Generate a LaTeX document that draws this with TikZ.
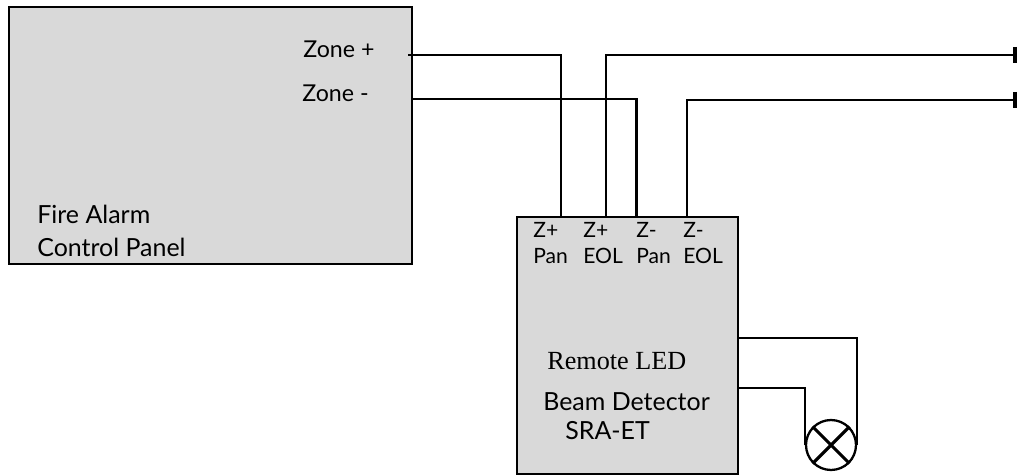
\documentclass[tikz,border=0pt]{standalone}
\usepackage{fontspec}
\setmainfont{Lato}
\newfontfamily\ledfont{Liberation Serif}
\usetikzlibrary{arrows.meta}
\tikzset{
    unitbox/.style={draw, line width=1.5pt, fill=black!15, inner sep=0pt},
    wire/.style={line width=1.4pt},
    label/.style={font=\fontsize{14.2}{19}\selectfont, align=left, anchor=west, inner sep=0pt},
    zonelabel/.style={font=\fontsize{13.2}{15}\selectfont, anchor=west, inner sep=0pt},
    pinlabel/.style={font=\fontsize{12}{14.8}\selectfont, align=left, anchor=north west, inner sep=0pt}
}
\begin{document}
\begin{tikzpicture}[x=0.02cm, y=-0.02cm]
    \useasboundingbox (0,0) rectangle (1017,476);

    % Boxes
    \node[unitbox, minimum width=8.06cm, minimum height=5.14cm] (panel) at (210.5,135.5) {};
    \node[unitbox, minimum width=4.42cm, minimum height=5.14cm] (detector) at (627.5,345.5) {};

    % Panel text
    \node[zonelabel] (zoneplus) at (303,49) {Zone +};
    \node[zonelabel] (zoneminus) at (302,93) {Zone -};
    \node[label] (panelname) at (37,231) {Fire Alarm\\Control Panel};

    % Detector text
    \node[pinlabel] (pinzpp) at (533,222) {Z+\\Pan};
    \node[pinlabel] (pinzpe) at (583,222) {Z+\\EOL};
    \node[pinlabel] (pinzmp) at (636,222) {Z-\\Pan};
    \node[pinlabel] (pinzme) at (683,222) {Z-\\EOL};
    \node[label, font=\ledfont\fontsize{14.9}{17}\selectfont] (ledname) at (547,361) {Remote LED};
    \node[label] (detname) at (543,402) {Beam Detector};
    \node[label] (srname) at (565,431) {SRA-ET};

    % Wire ends
    \coordinate (zpout) at (408,55);
    \coordinate (zmout) at (412,99);
    \coordinate (zpin) at (561,217);
    \coordinate (zpeol) at (606,217);
    \coordinate (zmin) at (636,217);
    \coordinate (zmeol) at (687,217);
    \coordinate (linep) at (1017,55);
    \coordinate (linem) at (1017,100);
    \coordinate (ledtop) at (738,338);
    \coordinate (ledbot) at (738,388);

    % Zone wiring
    \draw[wire] (zpout) -| (zpin);
    \draw[wire, line width=1.7pt] (zmout) -| (zmin);
    \draw[wire, -{Bar[width=3.2mm, line width=2.4pt]}] (zpeol) |- (linep);
    \draw[wire, line width=1.1pt, -{Bar[width=3.2mm, line width=2.4pt]}] (zmeol) |- (linem);

    % Remote lamp
    \node[draw, circle, line width=1.3pt, minimum size=1cm, inner sep=0pt] (lamp) at (831,445) {};
    \draw[line width=1.8pt] (lamp.45) -- (lamp.225);
    \draw[line width=1.8pt] (lamp.135) -- (lamp.315);
    \draw[wire, line width=1.25pt] (ledtop) -| (lamp.east);
    \draw[wire, line width=1.25pt] (ledbot) -| (lamp.west);
\end{tikzpicture}
\end{document}
